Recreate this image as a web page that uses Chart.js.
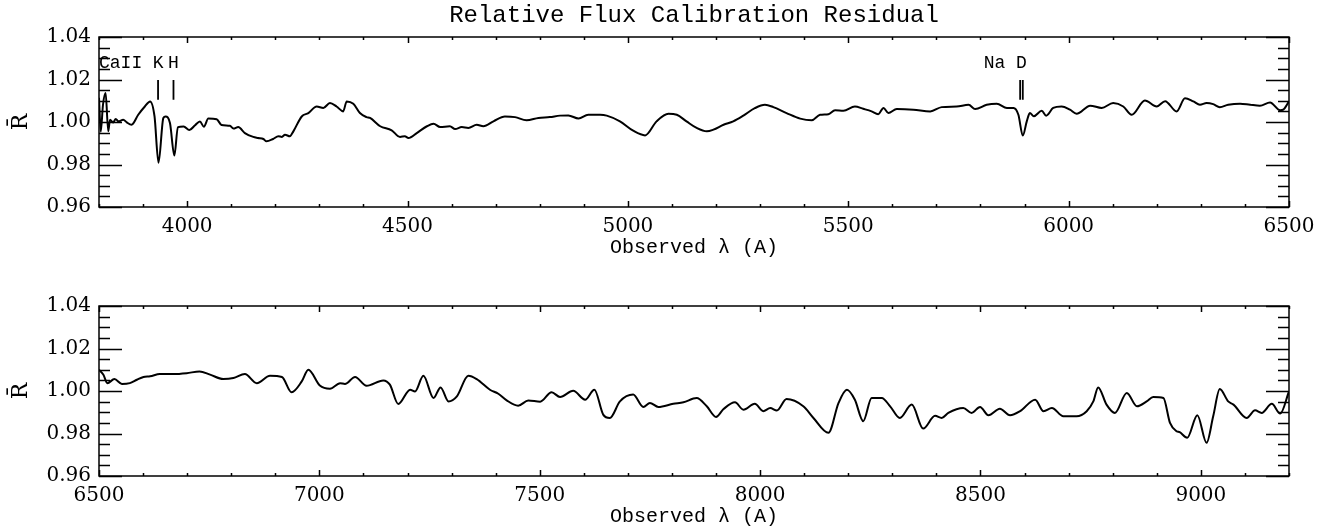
<!DOCTYPE html>
<html>
<head>
<meta charset="utf-8">
<script src="https://cdn.jsdelivr.net/npm/chart.js@4/dist/chart.umd.min.js"></script>
<style>
  html, body { margin: 0; padding: 0; background: #fff; }
  #wrap { position: relative; width: 1333px; height: 531px; }
  .panel { position: absolute; left: 0; width: 1333px; height: 262px; }
</style>
</head>
<body>
<div id="wrap">
  <div class="panel" style="top:0"><canvas id="topChart" width="1333" height="262"></canvas></div>
  <div class="panel" style="top:269px"><canvas id="botChart" width="1333" height="262"></canvas></div>
</div>
<script>
// residual curve, blue half of the spectrum
var waveTop = [3800, 3804, 3809, 3815, 3821, 3825, 3832, 3838, 3844, 3855, 3863, 3874, 3889, 3904, 3916, 3926, 3935, 3946, 3951, 3961, 3971,
  3979, 3992, 4005, 4018, 4029, 4038, 4048, 4067, 4078, 4097, 4105, 4116, 4131, 4150, 4161, 4173, 4180, 4195, 4207, 4215, 4222, 4233, 4241,
  4260, 4275, 4294, 4309, 4324, 4339, 4354, 4362, 4377, 4392, 4407, 4415, 4438, 4464, 4483, 4494, 4502, 4521, 4544, 4559, 4574, 4596,
  4608, 4623, 4638, 4657, 4672, 4695, 4721, 4744, 4770, 4797, 4823, 4846, 4865, 4888, 4910, 4937, 4952, 4982, 5012, 5039, 5065, 5092,
  5111, 5133, 5156, 5179, 5194, 5217, 5239, 5262, 5288, 5311, 5330, 5360, 5391, 5417, 5436, 5455, 5470, 5489, 5515, 5534, 5553, 5568,
  5580, 5591, 5610, 5648, 5686, 5712, 5746, 5773, 5788, 5814, 5837, 5860, 5875, 5886, 5896, 5905, 5912, 5921, 5939, 5949, 5965, 5984,
  6003, 6018, 6049, 6075, 6101, 6124, 6143, 6173, 6200, 6219, 6245, 6264, 6283, 6298, 6313, 6328, 6343, 6362, 6389, 6412, 6434, 6457,
  6480, 6487, 6500];
var residTop = [1.0114, 0.9954, 1.0080, 1.0136, 0.9956, 1.0011, 0.9998, 1.0014, 1.0003, 1.0011, 0.9998, 0.9987, 1.0034, 1.0073, 1.0097, 1.0026, 0.9808, 1.0019, 1.0026, 0.9995, 0.9842,
  0.9976, 0.9979, 0.9962, 0.9985, 1.0002, 0.9978, 1.0016, 1.0013, 0.9986, 0.9982, 0.9969, 0.9976, 0.9948, 0.9930, 0.9925, 0.9920, 0.9909, 0.9920, 0.9933, 0.9930, 0.9940, 0.9933, 0.9956,
  1.0026, 1.0042, 1.0073, 1.0066, 1.0089, 1.0073, 1.0050, 1.0097, 1.0086, 1.0042, 1.0023, 1.0019, 0.9980, 0.9961, 0.9930, 0.9933, 0.9925, 0.9948, 0.9980, 0.9992, 0.9976, 0.9980,
  0.9967, 0.9976, 0.9972, 0.9987, 0.9980, 1.0003, 1.0026, 1.0023, 1.0008, 1.0019, 1.0023, 1.0030, 1.0031, 1.0016, 1.0034, 1.0034, 1.0030, 1.0003, 0.9959, 0.9937, 1.0003, 1.0039,
  1.0034, 1.0003, 0.9972, 0.9956, 0.9964, 0.9987, 1.0003, 1.0030, 1.0065, 1.0081, 1.0070, 1.0042, 1.0016, 1.0008, 1.0034, 1.0037, 1.0055, 1.0053, 1.0073, 1.0062, 1.0050, 1.0037,
  1.0066, 1.0042, 1.0061, 1.0058, 1.0050, 1.0070, 1.0073, 1.0081, 1.0061, 1.0081, 1.0086, 1.0066, 1.0066, 1.0034, 0.9936, 1.0003, 1.0042, 1.0027, 1.0053, 1.0030, 1.0066, 1.0073,
  1.0058, 1.0039, 1.0077, 1.0066, 1.0089, 1.0073, 1.0034, 1.0101, 1.0073, 1.0098, 1.0050, 1.0112, 1.0097, 1.0081, 1.0089, 1.0084, 1.0070, 1.0081, 1.0086, 1.0081, 1.0077, 1.0092,
  1.0055, 1.0058, 1.0097];

// residual curve, red half
var waveBot = [6500, 6510, 6519, 6535, 6552, 6570, 6586, 6601, 6616, 6638, 6669, 6699, 6728, 6752, 6782, 6805, 6831, 6858, 6888, 6915, 6937,
  6960, 6975, 7001, 7024, 7047, 7058, 7081, 7107, 7145, 7160, 7179, 7206, 7217, 7236, 7259, 7275, 7293, 7312, 7338, 7357, 7387, 7406,
  7425, 7451, 7474, 7501, 7527, 7546, 7576, 7603, 7624, 7644, 7659, 7682, 7712, 7735, 7750, 7769, 7803, 7826, 7856, 7879, 7900, 7917,
  7943, 7962, 7988, 8007, 8023, 8038, 8060, 8098, 8121, 8155, 8178, 8197, 8215, 8234, 8253, 8276, 8295, 8317, 8344, 8370, 8397, 8412,
  8427, 8461, 8480, 8499, 8518, 8544, 8567, 8590, 8624, 8643, 8662, 8688, 8718, 8741, 8756, 8767, 8786, 8805, 8832, 8855, 8877, 8892,
  8915, 8930, 8945, 8952, 8969, 8992, 9013, 9028, 9043, 9062, 9074, 9104, 9123, 9138, 9161, 9180, 9200];
var residBot = [1.0100, 1.0076, 1.0037, 1.0056, 1.0033, 1.0037, 1.0053, 1.0066, 1.0069, 1.0080, 1.0080, 1.0084, 1.0092, 1.0077, 1.0056, 1.0061, 1.0080, 1.0037, 1.0072, 1.0066, 0.9994,
  1.0045, 1.0100, 1.0026, 1.0011, 1.0037, 1.0033, 1.0066, 1.0025, 1.0050, 1.0030, 0.9939, 1.0006, 0.9998, 1.0072, 0.9967, 1.0017, 0.9951, 0.9975, 1.0072, 1.0056, 1.0006, 0.9987,
  0.9956, 0.9931, 0.9955, 0.9950, 0.9994, 0.9972, 1.0001, 0.9959, 1.0006, 0.9889, 0.9873, 0.9951, 0.9983, 0.9925, 0.9944, 0.9925, 0.9940, 0.9947, 0.9967, 0.9928, 0.9878, 0.9915,
  0.9947, 0.9912, 0.9940, 0.9905, 0.9920, 0.9908, 0.9962, 0.9928, 0.9873, 0.9803, 0.9944, 1.0006, 0.9959, 0.9858, 0.9967, 0.9967, 0.9928, 0.9873, 0.9936, 0.9823, 0.9883, 0.9873,
  0.9897, 0.9920, 0.9897, 0.9925, 0.9886, 0.9917, 0.9886, 0.9905, 0.9959, 0.9905, 0.9920, 0.9881, 0.9881, 0.9905, 0.9951, 1.0017, 0.9936, 0.9897, 0.9991, 0.9928, 0.9951, 0.9972,
  0.9967, 0.9850, 0.9811, 0.9806, 0.9780, 0.9886, 0.9756, 0.9881, 1.0009, 0.9951, 0.9936, 0.9873, 0.9909, 0.9897, 0.9940, 0.9894, 0.9998];

var xLabelsTop = [4000, 4500, 5000, 5500, 6000, 6500];
var xLabelsBot = [6500, 7000, 7500, 8000, 8500, 9000];
var yLabels = [0.96, 0.98, 1.00, 1.02, 1.04];

// absorption features marked on the top panel
var caLines = [3934, 3969];
var caNames = ['K', 'H'];
var naLines = [5890, 5896];

var FONT = "'Liberation Mono', 'DejaVu Sans Mono', monospace";
var NUMFONT = "'DejaVu Serif', 'Liberation Serif', serif";

var toXY = function (xs, ys) { return xs.map(function (x, i) { return { x: x, y: ys[i] }; }); };

var frame = {
  id: 'frame',
  afterDatasetsDraw: function (chart) {
    var ctx = chart.ctx, a = chart.chartArea, xs = chart.scales.x, ys = chart.scales.y;
    ctx.save();
    ctx.strokeStyle = '#000';
    ctx.lineWidth = 1.5;
    ctx.strokeRect(a.left, a.top, a.right - a.left, a.bottom - a.top);
    ctx.beginPath();
    for (var v = Math.ceil(xs.min / 100) * 100; v <= xs.max; v += 100) {
      var px = Math.round(xs.getPixelForValue(v)) + 0.5, len = v % 500 === 0 ? 6 : 3;
      ctx.moveTo(px, a.bottom); ctx.lineTo(px, a.bottom - len);
      ctx.moveTo(px, a.top); ctx.lineTo(px, a.top + len);
    }
    for (var i = 0; i <= 16; i++) {
      var py = Math.round(ys.getPixelForValue(0.96 + i * 0.005)) + 0.5, l = i % 4 === 0 ? 23 : 11;
      ctx.moveTo(a.left, py); ctx.lineTo(a.left + l, py);
      ctx.moveTo(a.right, py); ctx.lineTo(a.right - l, py);
    }
    ctx.stroke();
    ctx.restore();
  }
};

var marks = {
  id: 'marks',
  afterDatasetsDraw: function (chart) {
    var ctx = chart.ctx, xs = chart.scales.x, ys = chart.scales.y;
    var y0 = ys.getPixelForValue(1.0198), y1 = ys.getPixelForValue(1.0105), ty = ys.getPixelForValue(1.0276);
    ctx.save();
    ctx.strokeStyle = '#000';
    ctx.fillStyle = '#000';
    ctx.lineWidth = 1.8;
    ctx.beginPath();
    caLines.concat(naLines).forEach(function (w) {
      var px = xs.getPixelForValue(w);
      ctx.moveTo(px, y0); ctx.lineTo(px, y1);
    });
    ctx.stroke();
    ctx.font = '18px ' + FONT;
    ctx.textBaseline = 'middle';
    ctx.textAlign = 'left';
    ctx.fillText('CaII', chart.chartArea.left, ty);
    ctx.textAlign = 'center';
    caLines.forEach(function (w, i) { ctx.fillText(caNames[i], xs.getPixelForValue(w), ty); });
    var nd = xs.getPixelForValue((naLines[0] + naLines[1]) / 2);
    ctx.textAlign = 'right';
    ctx.fillText('Na D', nd + ctx.measureText('D').width / 2, ty);
    ctx.restore();
  }
};

function makeScales(xmin, xmax, xLabels) {
  return {
    x: {
      type: 'linear', min: xmin, max: xmax,
      grid: { display: false, drawTicks: false },
      border: { display: false },
      afterBuildTicks: function (s) { s.ticks = xLabels.map(function (v) { return { value: v }; }); },
      afterFit: function (s) { s.height = 55; },
      ticks: { color: '#000', font: { family: NUMFONT, size: 20 }, padding: 8, maxRotation: 0, autoSkip: false,
        callback: function (v) { return String(v); } },
      title: { display: true, text: 'Observed λ (A)', color: '#000', font: { family: FONT, size: 20 }, padding: { top: 0, bottom: 2 } }
    },
    y: {
      type: 'linear', min: 0.96, max: 1.04,
      grid: { display: false, drawTicks: false },
      border: { display: false },
      afterBuildTicks: function (s) { s.ticks = yLabels.map(function (v) { return { value: v }; }); },
      afterFit: function (s) { s.width = 99; },
      ticks: { color: '#000', font: { family: NUMFONT, size: 20 }, padding: 8,
        callback: function (v) { return v.toFixed(2); } },
      title: { display: true, text: 'R\u0304', color: '#000', font: { family: NUMFONT, size: 22 }, padding: { top: 8, bottom: 0 } }
    }
  };
}

function makeChart(id, waves, resid, xmin, xmax, xLabels, withTitle) {
  return new Chart(document.getElementById(id), {
    type: 'line',
    data: {
      datasets: [{ data: toXY(waves, resid), borderColor: '#000', borderWidth: 2, pointRadius: 0,
        cubicInterpolationMode: 'monotone', fill: false }]
    },
    options: {
      responsive: false,
      animation: false,
      layout: { padding: { left: 0, right: 44, top: withTitle ? 0 : 37, bottom: 0 } },
      plugins: {
        legend: { display: false },
        tooltip: { enabled: false },
        title: {
          display: withTitle, text: 'Relative Flux Calibration Residual', color: '#000', fullSize: false,
          font: { family: FONT, size: 24, weight: 'normal' }, padding: { top: 1, bottom: 7.2 }
        }
      },
      scales: makeScales(xmin, xmax, xLabels)
    },
    plugins: withTitle ? [frame, marks] : [frame]
  });
}

makeChart('topChart', waveTop, residTop, 3800, 6500, xLabelsTop, true);
makeChart('botChart', waveBot, residBot, 6500, 9200, xLabelsBot, false);
</script>
</body>
</html>
